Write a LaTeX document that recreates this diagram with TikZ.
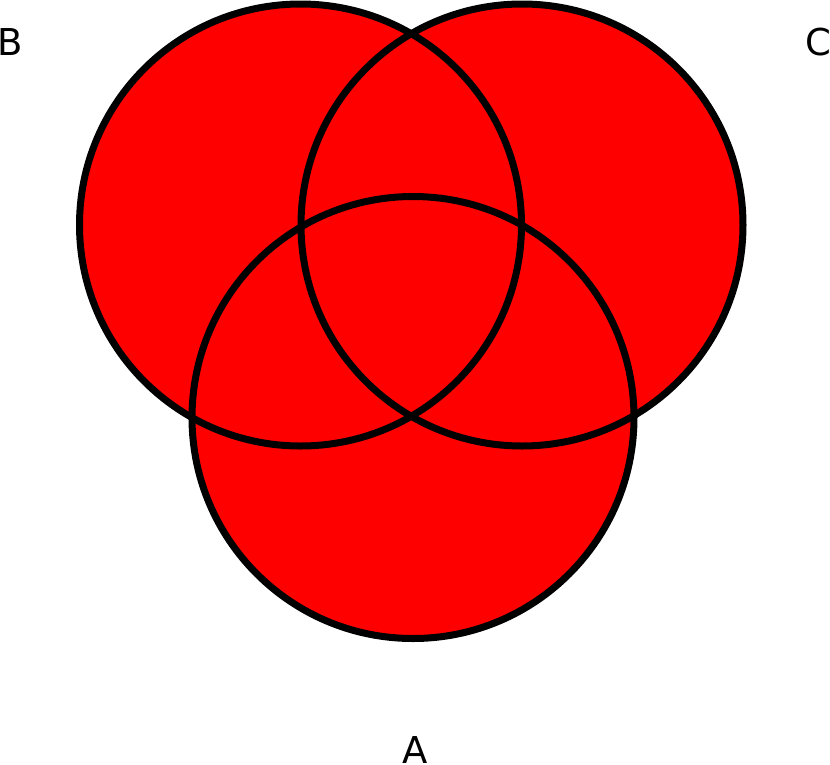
\documentclass[tikz,border=0pt]{standalone}
\usepackage{fontspec}
\setmainfont{DejaVu Sans}
\begin{document}
\begin{tikzpicture}[x=1pt,y=-1pt,
  setfill/.style={fill=red},
  setline/.style={draw=black,line width=7pt},
  lbl/.style={font=\fontsize{37}{40}\selectfont,inner sep=0pt,anchor=base}]
\useasboundingbox (0,0) rectangle (830,764);
\coordinate (cB) at (300.5,225);
\coordinate (cC) at (522,225);
\coordinate (cA) at (413,417.5);
\fill[setfill] (cB) circle[radius=221];
\fill[setfill] (cC) circle[radius=221];
\fill[setfill] (cA) circle[radius=221];
\draw[setline] (cB) circle[radius=221];
\draw[setline] (cC) circle[radius=221];
\draw[setline] (cA) circle[radius=221];
\node[lbl] (B) at (10,55) {B};
\node[lbl] (C) at (818,55) {C};
\node[lbl] (A) at (415,763) {A};
\end{tikzpicture}
\end{document}
